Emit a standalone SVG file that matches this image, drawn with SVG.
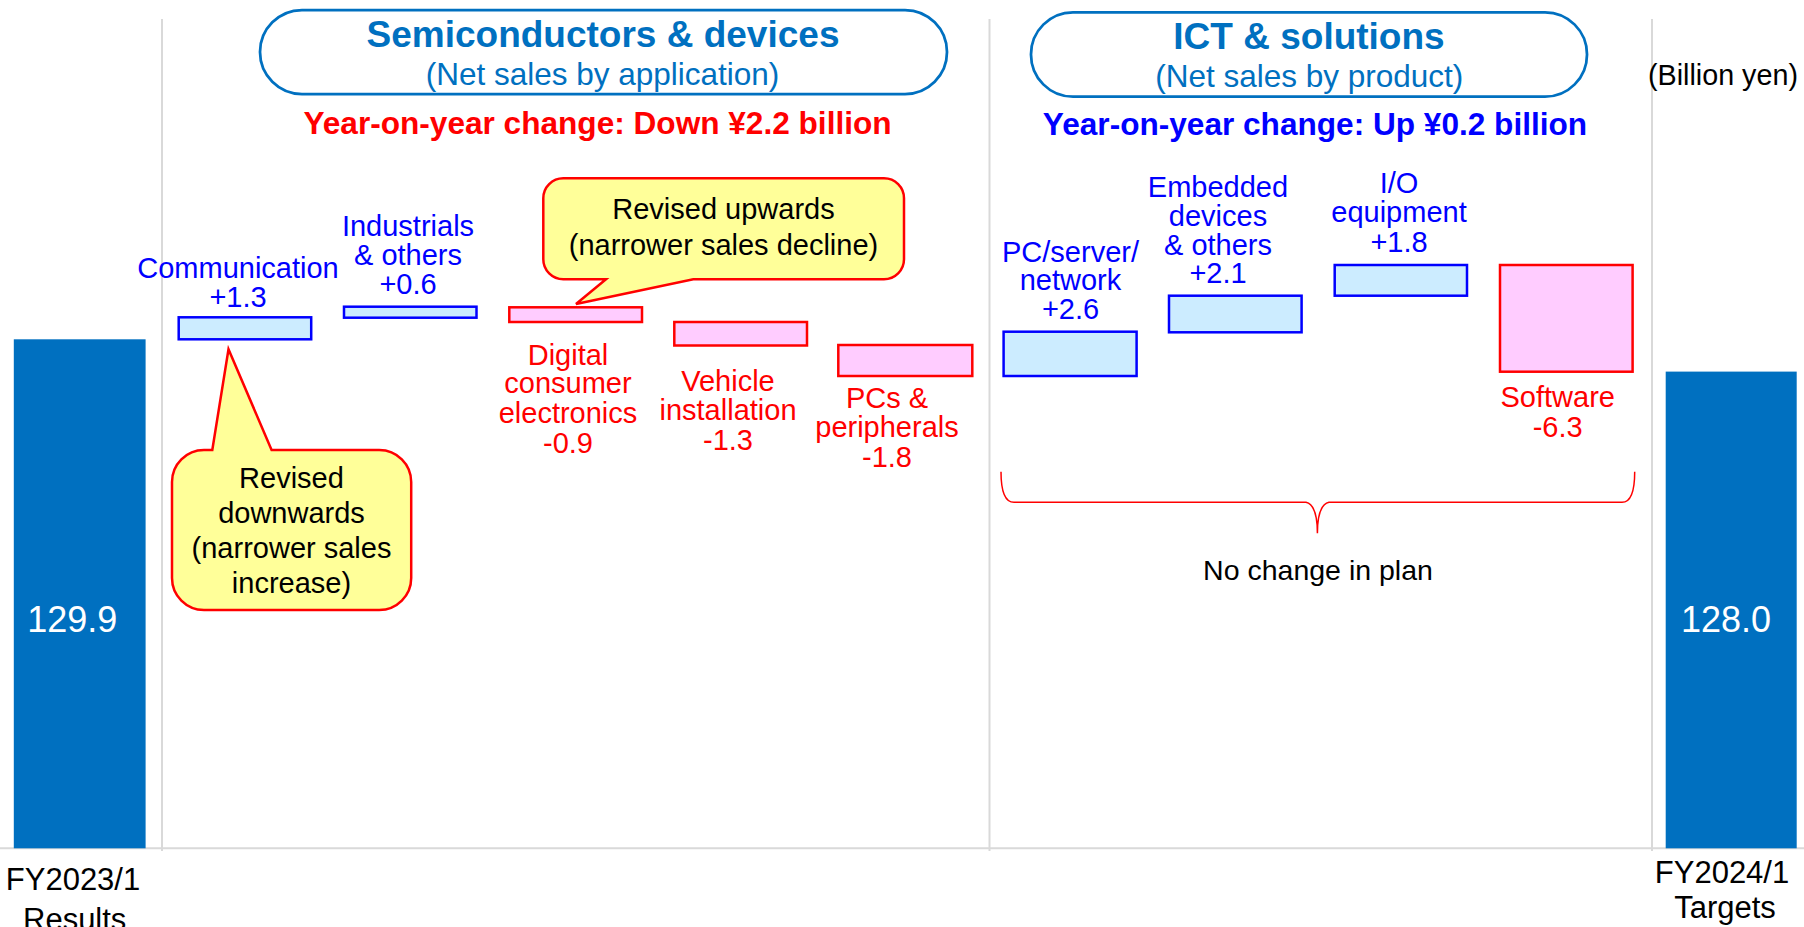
<svg xmlns="http://www.w3.org/2000/svg" width="1804" height="927" viewBox="0 0 1804 927">
  <style>
    text { font-family: "Liberation Sans", Arial, sans-serif; text-anchor: middle; }
    .grid { stroke: #D9D9D9; stroke-width: 2; fill: none; }
    .total { fill: #0070C0; }
    .val { fill: #FFFFFF; font-size: 36px; }
    .axis { fill: #000000; font-size: 31px; }
    .pill { fill: #FFFFFF; stroke: #0070C0; stroke-width: 2.75; }
    .title { fill: #0070C0; font-size: 37px; font-weight: bold; }
    .sub { fill: #0070C0; font-size: 31.5px; }
    .yoy { font-size: 31.6px; font-weight: bold; }
    .up { fill: #CCECFF; stroke: #0000FF; stroke-width: 2.5; }
    .down { fill: #FFCCFF; stroke: #FF0000; stroke-width: 2.5; }
    .lblUp { fill: #0000FF; font-size: 29px; }
    .lblDown { fill: #FF0000; font-size: 29px; }
    .callout { fill: #FFFF99; stroke: #FF0000; stroke-width: 2.5; stroke-linejoin: miter; }
    .note { fill: #000000; font-size: 29px; }
    .brace { fill: none; stroke: #FF0000; stroke-width: 1.5; }
  </style>

  <!-- axis and section dividers -->
  <g id="gridlines">
    <line class="grid" x1="0" y1="848.3" x2="1804" y2="848.3"/>
    <line class="grid" x1="162" y1="19" x2="162" y2="851"/>
    <line class="grid" x1="989.5" y1="19" x2="989.5" y2="851"/>
    <line class="grid" x1="1652" y1="19" x2="1652" y2="851"/>
  </g>

  <!-- start and end totals -->
  <g id="total-fy2023">
    <rect class="total" x="13.8" y="339.3" width="131.8" height="509"/>
    <text class="val" x="72.3" y="631.7">129.9</text>
    <text class="axis" x="73" y="890">FY2023/1</text>
    <text class="axis" x="74.7" y="929.5">Results</text>
  </g>
  <g id="total-fy2024">
    <rect class="total" x="1665.7" y="371.6" width="131" height="476.7"/>
    <text class="val" x="1726" y="631.7">128.0</text>
    <text class="axis" x="1722" y="883.3">FY2024/1</text>
    <text class="axis" x="1725" y="918.3">Targets</text>
  </g>

  <text id="unit" x="1723" y="85" style="fill:#000000;font-size:28.7px">(Billion yen)</text>

  <!-- segment headers -->
  <g id="header-semiconductors">
    <rect class="pill" x="260" y="10" width="687" height="84" rx="42" ry="42"/>
    <text class="title" x="603" y="46.7">Semiconductors &amp; devices</text>
    <text class="sub" x="602.5" y="85">(Net sales by application)</text>
    <text class="yoy" x="597.5" y="133.5" style="fill:#FF0000">Year-on-year change: Down ¥2.2 billion</text>
  </g>
  <g id="header-ict">
    <rect class="pill" x="1031" y="12.3" width="556" height="84.4" rx="42" ry="42"/>
    <text class="title" x="1309" y="49.3">ICT &amp; solutions</text>
    <text class="sub" x="1309.3" y="86.7">(Net sales by product)</text>
    <text class="yoy" x="1315" y="135" style="fill:#0000FF">Year-on-year change: Up ¥0.2 billion</text>
  </g>

  <!-- semiconductor & device applications -->
  <g id="step-communication">
    <rect class="up" x="178.7" y="317.3" width="132.5" height="22"/>
    <text class="lblUp" x="238" y="278.3">Communication</text>
    <text class="lblUp" x="238" y="307.3">+1.3</text>
  </g>
  <g id="step-industrials">
    <rect class="up" x="344" y="306.7" width="132.5" height="11"/>
    <text class="lblUp" x="408" y="236">Industrials</text>
    <text class="lblUp" x="408" y="265">&amp; others</text>
    <text class="lblUp" x="408" y="294.3">+0.6</text>
  </g>
  <g id="step-digital-consumer">
    <rect class="down" x="509.3" y="307.3" width="132.7" height="14.7"/>
    <text class="lblDown" x="568" y="365">Digital</text>
    <text class="lblDown" x="568" y="393.3">consumer</text>
    <text class="lblDown" x="568" y="422.7">electronics</text>
    <text class="lblDown" x="568" y="452.7">-0.9</text>
  </g>
  <g id="step-vehicle">
    <rect class="down" x="674.3" y="322" width="132.7" height="23.5"/>
    <text class="lblDown" x="728" y="391">Vehicle</text>
    <text class="lblDown" x="728" y="420">installation</text>
    <text class="lblDown" x="728" y="450">-1.3</text>
  </g>
  <g id="step-pcs">
    <rect class="down" x="838.3" y="345" width="134" height="31"/>
    <text class="lblDown" x="887" y="408.3">PCs &amp;</text>
    <text class="lblDown" x="887" y="437.3">peripherals</text>
    <text class="lblDown" x="887" y="466.7">-1.8</text>
  </g>

  <!-- ICT products -->
  <g id="step-pc-server">
    <rect class="up" x="1003.6" y="331.7" width="133" height="44.3"/>
    <text class="lblUp" x="1070.5" y="261.7">PC/server/</text>
    <text class="lblUp" x="1070.5" y="290">network</text>
    <text class="lblUp" x="1070.5" y="319.3">+2.6</text>
  </g>
  <g id="step-embedded">
    <rect class="up" x="1169" y="295.7" width="132.6" height="36.6"/>
    <text class="lblUp" x="1218" y="196.7">Embedded</text>
    <text class="lblUp" x="1218" y="225.7">devices</text>
    <text class="lblUp" x="1218" y="255">&amp; others</text>
    <text class="lblUp" x="1218" y="283.3">+2.1</text>
  </g>
  <g id="step-io">
    <rect class="up" x="1334.7" y="265" width="132.3" height="30.7"/>
    <text class="lblUp" x="1399" y="193.3">I/O</text>
    <text class="lblUp" x="1399" y="221.7">equipment</text>
    <text class="lblUp" x="1399" y="251.7">+1.8</text>
  </g>
  <g id="step-software">
    <rect class="down" x="1500" y="265" width="132.6" height="106.7"/>
    <text class="lblDown" x="1557.7" y="406.7">Software</text>
    <text class="lblDown" x="1557.7" y="436.7">-6.3</text>
  </g>

  <!-- revision callouts -->
  <g id="callout-upwards">
    <path class="callout" d="M 563.3,178.3 H 884 A 20,20 0 0 1 904,198.3 V 259.3 A 20,20 0 0 1 884,279.3 H 693.3 L 576,304 L 606,279.3 H 563.3 A 20,20 0 0 1 543.3,259.3 V 198.3 A 20,20 0 0 1 563.3,178.3 Z"/>
    <text class="note" x="723.5" y="219.3">Revised upwards</text>
    <text class="note" x="723.5" y="255">(narrower sales decline)</text>
  </g>
  <g id="callout-downwards">
    <path class="callout" d="M 204,450 H 212.3 L 228.5,349.3 L 271.6,450 H 379.2 A 32,32 0 0 1 411.2,482 V 578 A 32,32 0 0 1 379.2,610 H 204 A 32,32 0 0 1 172,578 V 482 A 32,32 0 0 1 204,450 Z"/>
    <text class="note" x="291.5" y="487.7">Revised</text>
    <text class="note" x="291.5" y="523.3">downwards</text>
    <text class="note" x="291.5" y="558.3">(narrower sales</text>
    <text class="note" x="291.5" y="593.3">increase)</text>
  </g>

  <!-- brace over the ICT steps -->
  <g id="connectors">
    <path class="brace" d="M 1001,471.7 Q 1001,502.3 1014,502.3 H 1306 Q 1317.4,505 1317.4,533.3 Q 1317.4,505 1329,502.3 H 1622 Q 1634.7,502.3 1634.7,471.7"/>
  </g>
  <g id="no-change-note">
    <text x="1318" y="580" style="fill:#000000;font-size:28.5px">No change in plan</text>
  </g>
</svg>
